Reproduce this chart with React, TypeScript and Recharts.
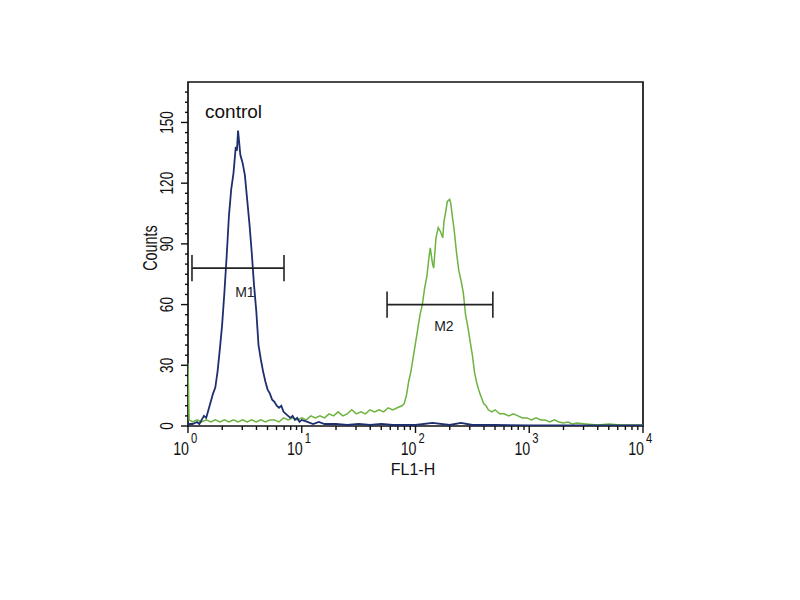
import { ComposedChart, Line, XAxis, YAxis, ReferenceArea, ReferenceLine, ReferenceDot } from 'recharts';

// channel positions are in decades (0 = 10^0 ... 4 = 10^4)
const BLUE_LOG = [
    0, 0.04, 0.08, 0.10, 0.12, 0.14, 0.16, 0.18, 0.20, 0.22,
    0.24, 0.26, 0.28, 0.30, 0.32, 0.34, 0.36, 0.38, 0.40, 0.42,
    0.43, 0.44, 0.45, 0.46, 0.48, 0.50, 0.52, 0.54, 0.56, 0.58,
    0.60, 0.62, 0.64, 0.66, 0.68, 0.70, 0.72, 0.74, 0.76, 0.78,
    0.80, 0.82, 0.84, 0.86, 0.88, 0.90, 0.92, 0.94, 0.96, 0.98,
    1.00, 1.05, 1.10, 1.15, 1.20, 1.30, 1.40, 1.50, 1.60, 1.70,
    1.80, 1.90, 2.00, 2.15, 2.30, 2.40, 2.50, 2.70, 3.00, 3.50, 4.00,
];
const BLUE_COUNTS = [
    1, 1, 2, 1, 3, 5, 4, 8, 12, 16,
    19, 27, 38, 50, 66, 84, 104, 117, 125, 138,
    136, 146, 140, 134, 130, 124, 112, 100, 86, 70,
    57, 40, 33, 27, 22, 18, 16, 13, 12, 10,
    9, 10, 7, 6, 5, 4, 5, 3, 4, 2,
    3, 2, 1, 2, 1, 1, 0.5, 1, 0.5, 1,
    0.5, 0.5, 0.5, 1.5, 0.5, 1.5, 0.5, 0.5, 0.3, 0.3, 0.3,
];

const GREEN_LOG = [
    0, 0.01, 0.04, 0.08, 0.12, 0.16, 0.20, 0.24, 0.28, 0.32,
    0.36, 0.40, 0.44, 0.48, 0.52, 0.56, 0.60, 0.64, 0.68, 0.72,
    0.76, 0.80, 0.84, 0.88, 0.92, 0.96, 1.00, 1.04, 1.08, 1.12,
    1.16, 1.20, 1.24, 1.28, 1.32, 1.36, 1.40, 1.44, 1.48, 1.52,
    1.56, 1.60, 1.64, 1.68, 1.72, 1.76, 1.80, 1.84, 1.88, 1.90,
    1.92, 1.94, 1.96, 1.98, 2.00, 2.02, 2.04, 2.06, 2.08, 2.10,
    2.12, 2.13, 2.15, 2.16, 2.18, 2.20, 2.22, 2.24, 2.25, 2.26,
    2.28, 2.30, 2.31, 2.33, 2.34, 2.36, 2.38, 2.40, 2.42, 2.44,
    2.46, 2.48, 2.50, 2.52, 2.54, 2.56, 2.58, 2.60, 2.62, 2.64,
    2.67, 2.70, 2.74, 2.78, 2.82, 2.86, 2.90, 2.94, 2.98, 3.02,
    3.06, 3.10, 3.14, 3.18, 3.22, 3.26, 3.30, 3.34, 3.38, 3.42,
    3.50, 3.60, 3.70, 3.80, 3.90, 4.00,
];
const GREEN_COUNTS = [
    31, 3, 2, 3, 2, 3, 2, 3, 2, 3,
    2, 3, 2, 3, 2, 3, 2, 3, 2, 3,
    3, 2, 4, 3, 4, 3, 4, 3, 5, 4,
    5, 4, 6, 5, 7, 5, 6, 8, 6, 7,
    6, 8, 7, 8, 7, 9, 8, 9, 10, 11,
    15, 22, 27, 34, 41, 48, 55, 60, 68, 74,
    84, 88, 80, 78, 93, 98, 96, 93, 101, 104,
    111, 112, 110, 101, 97, 86, 77, 72, 66, 55,
    49, 42, 35, 26, 21, 17, 14, 11, 10, 8,
    7, 8, 6, 6, 5, 6, 5, 4, 4, 3,
    4, 3, 3, 2, 3, 2, 1.5, 2, 1, 1.5,
    1, 0.5, 1, 0.5, 0.5, 0.5,
];

// gate markers: [from, to] in decades, height in counts
const M1_RANGE = [0.035, 0.844];
const M1_LEVEL = 78;
const M2_RANGE = [1.75, 2.68];
const M2_LEVEL = 60;
const CAP = 6.5;

const X_DECADES = [0, 1, 2, 3, 4];
const X_MINOR = [2, 3, 4, 5, 6, 7, 8, 9];
const Y_MAJOR = [0, 30, 60, 90, 120, 150];
const Y_MINOR_STEP = 5;
const Y_MAX = 170;

const FONT = '"Liberation Sans", Arial, sans-serif';
const BLUE = '#1d2f6e';
const GREEN = '#6db33f';

const blueData = BLUE_LOG.map((x, i) => ({ x, y: BLUE_COUNTS[i] }));
const greenData = GREEN_LOG.map((x, i) => ({ x, y: GREEN_COUNTS[i] }));

const xTicks = X_DECADES.flatMap(d => (d < 4 ? [d, ...X_MINOR.map(m => d + Math.log10(m))] : [d]));
const yTicks = Array.from({ length: Math.floor(165 / Y_MINOR_STEP) + 1 }, (_, i) => i * Y_MINOR_STEP);

function XTick(props: any) {
    const { x, y, payload } = props;
    const v = payload.value;
    const major = Math.abs(v - Math.round(v)) < 1e-6;
    return (
        <g>
            <line x1={x} x2={x} y1={y} y2={y + (major ? 7 : 4)} stroke="#111" strokeWidth={1.4} />
            {major && (
                <g transform={`translate(${x + 1}, ${y + 29}) scale(0.75, 1)`}>
                    <text x={0} y={0} textAnchor="end" fontSize={19} fontFamily={FONT} fill="#111">10</text>
                </g>
            )}
            {major && (
                <g transform={`translate(${x + 3}, ${y + 17}) scale(0.8, 1)`}>
                    <text x={0} y={0} fontSize={14} fontFamily={FONT} fill="#111">{Math.round(v)}</text>
                </g>
            )}
        </g>
    );
}

function YTick(props: any) {
    const { x, y, payload } = props;
    const v = payload.value;
    const major = Y_MAJOR.includes(v);
    return (
        <g>
            <line x1={x - (major ? 7 : 3)} x2={x} y1={y} y2={y} stroke="#111" strokeWidth={1.4} />
            {major && (
                <g transform={`translate(${x - 15}, ${y}) rotate(-90) scale(0.72, 1)`}>
                    <text x={0} y={0} textAnchor="middle" fontSize={19} fontFamily={FONT} fill="#111">{v}</text>
                </g>
            )}
        </g>
    );
}

function GateMarker(range: number[], level: number, key: string) {
    return [
        <ReferenceLine key={`${key}-h`} segment={[{ x: range[0], y: level }, { x: range[1], y: level }]} stroke="#222" strokeWidth={1.6} ifOverflow="visible" />,
        <ReferenceLine key={`${key}-l`} segment={[{ x: range[0], y: level - CAP }, { x: range[0], y: level + CAP }]} stroke="#222" strokeWidth={1.6} ifOverflow="visible" />,
        <ReferenceLine key={`${key}-r`} segment={[{ x: range[1], y: level - CAP }, { x: range[1], y: level + CAP }]} stroke="#222" strokeWidth={1.6} ifOverflow="visible" />,
    ];
}

export default function App() {
    return (
        <div style={{ position: 'absolute', left: 0, top: 0, width: 800, height: 600, background: '#fff' }}>
            <ComposedChart width={800} height={600} margin={{ top: 82, right: 157, bottom: 144, left: 158 }}>
                <XAxis
                    type="number" dataKey="x" domain={[0, 4]} ticks={xTicks} height={30}
                    axisLine={false} tickLine={false} tickSize={0} tickMargin={0}
                    tick={(p: any) => <XTick {...p} />} interval={0} allowDataOverflow
                />
                <YAxis
                    type="number" dataKey="y" domain={[0, Y_MAX]} ticks={yTicks} width={30}
                    axisLine={false} tickLine={false} tickSize={0} tickMargin={0}
                    tick={(p: any) => <YTick {...p} />} interval={0} allowDataOverflow
                />
                <ReferenceArea x1={0} x2={4} y1={0} y2={Y_MAX} fill="none" stroke="#111" strokeWidth={1.7} ifOverflow="visible" />
                <Line data={greenData} dataKey="y" type="linear" stroke={GREEN} strokeWidth={1.5} dot={false} isAnimationActive={false} />
                <Line data={blueData} dataKey="y" type="linear" stroke={BLUE} strokeWidth={1.8} dot={false} isAnimationActive={false} />
                {GateMarker(M1_RANGE, M1_LEVEL, 'm1')}
                {GateMarker(M2_RANGE, M2_LEVEL, 'm2')}
                <ReferenceDot x={0.50} y={66} r={0} fill="none" stroke="none" ifOverflow="visible"
                    label={{ value: 'M1', position: 'center', fontSize: 14, fontFamily: FONT, fill: '#222' }} />
                <ReferenceDot x={2.25} y={49.5} r={0} fill="none" stroke="none" ifOverflow="visible"
                    label={{ value: 'M2', position: 'center', fontSize: 14, fontFamily: FONT, fill: '#222' }} />
            </ComposedChart>
            <svg width={800} height={600} style={{ position: 'absolute', left: 0, top: 0, pointerEvents: 'none' }}>
                <text x={205} y={118} fontSize={19} fontFamily={FONT} fill="#111">control</text>
                <g transform="translate(157, 248) rotate(-90) scale(0.72, 1)">
                    <text x={0} y={0} textAnchor="middle" fontSize={20} fontFamily={FONT} fill="#111">Counts</text>
                </g>
                <text x={413} y={475} textAnchor="middle" fontSize={16} fontFamily={FONT} fill="#111">FL1-H</text>
            </svg>
        </div>
    );
}
